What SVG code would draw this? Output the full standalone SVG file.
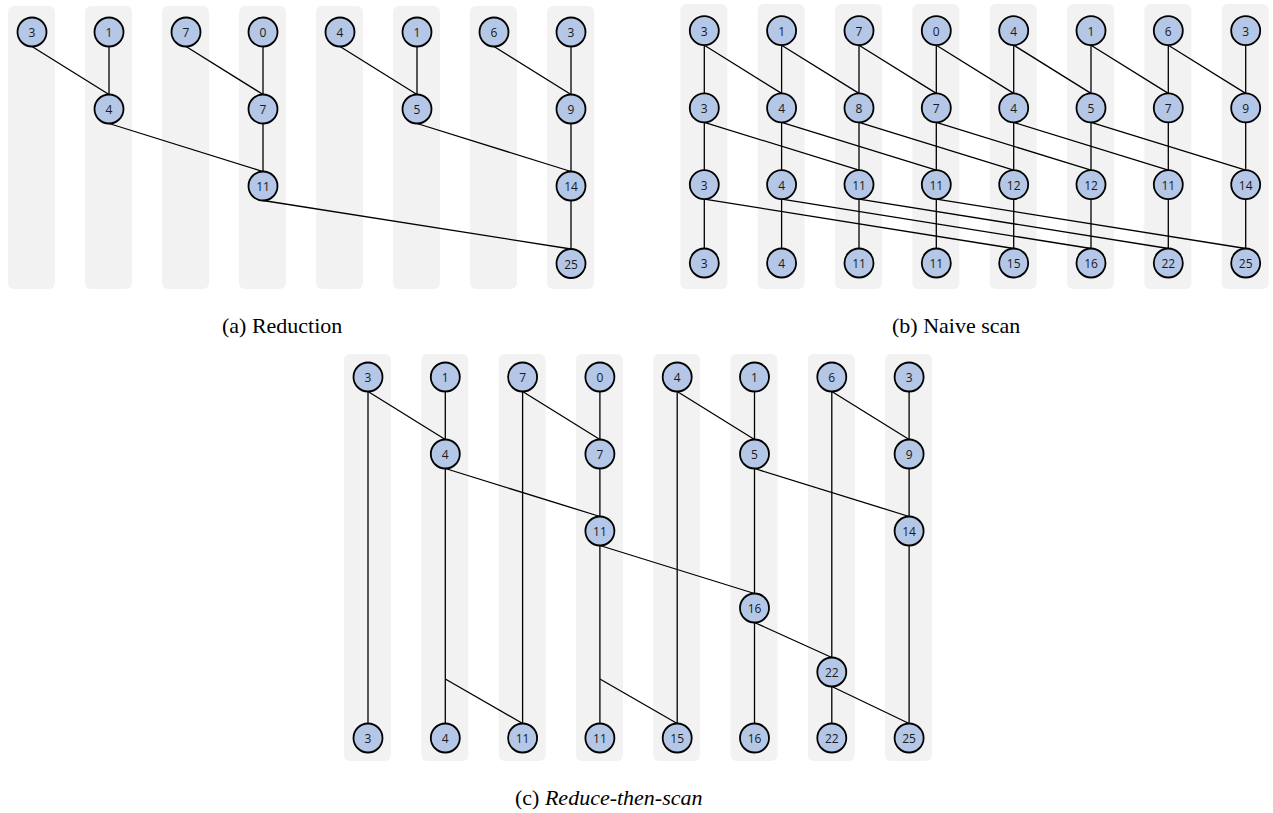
<svg xmlns="http://www.w3.org/2000/svg" width="1273" height="813" viewBox="0 0 1273 813">
<style>
.lane{fill:#f2f2f2;stroke:none}
.n circle{fill:#b4c7e7;stroke:#000;stroke-width:1.8}
.n text{font-family:"Open Sans","Liberation Sans",sans-serif;font-size:12px;fill:#1a1a1a;text-anchor:middle;dominant-baseline:central}
.e line{stroke:#000;stroke-width:1.3;fill:none}
.cap{font-family:"Liberation Serif","Times New Roman",serif;font-size:22px;fill:#000}
</style>
<rect width="1273" height="813" fill="#fff"/>
<!-- lanes -->
<g id="lanes-a">
<rect class="lane" x="8" y="6" width="47" height="283" rx="6"/>
<rect class="lane" x="85" y="6" width="47" height="283" rx="6"/>
<rect class="lane" x="162" y="6" width="47" height="283" rx="6"/>
<rect class="lane" x="239" y="6" width="47" height="283" rx="6"/>
<rect class="lane" x="316" y="6" width="47" height="283" rx="6"/>
<rect class="lane" x="393" y="6" width="47" height="283" rx="6"/>
<rect class="lane" x="470" y="6" width="47" height="283" rx="6"/>
<rect class="lane" x="547" y="6" width="47" height="283" rx="6"/>
</g>
<g id="lanes-b">
<rect class="lane" x="680.3" y="4" width="47" height="285" rx="6"/>
<rect class="lane" x="757.6" y="4" width="47" height="285" rx="6"/>
<rect class="lane" x="835" y="4" width="47" height="285" rx="6"/>
<rect class="lane" x="912.3" y="4" width="47" height="285" rx="6"/>
<rect class="lane" x="989.7" y="4" width="47" height="285" rx="6"/>
<rect class="lane" x="1067" y="4" width="47" height="285" rx="6"/>
<rect class="lane" x="1144.3" y="4" width="47" height="285" rx="6"/>
<rect class="lane" x="1221.7" y="4" width="47" height="285" rx="6"/>
</g>
<g id="lanes-c">
<rect class="lane" x="344" y="354" width="47" height="407" rx="6"/>
<rect class="lane" x="421.3" y="354" width="47" height="407" rx="6"/>
<rect class="lane" x="498.6" y="354" width="47" height="407" rx="6"/>
<rect class="lane" x="575.9" y="354" width="47" height="407" rx="6"/>
<rect class="lane" x="653.2" y="354" width="47" height="407" rx="6"/>
<rect class="lane" x="730.5" y="354" width="47" height="407" rx="6"/>
<rect class="lane" x="807.8" y="354" width="47" height="407" rx="6"/>
<rect class="lane" x="885.1" y="354" width="47" height="407" rx="6"/>
</g>
<!-- connectors -->
<g id="connectors" class="e">
<!-- (a) -->
<line x1="32" y1="46.5" x2="109" y2="94.5"/>
<line x1="109" y1="46.5" x2="109" y2="94.5"/>
<line x1="186" y1="46.5" x2="263" y2="94.5"/>
<line x1="263" y1="46.5" x2="263" y2="94.5"/>
<line x1="340" y1="46.5" x2="417" y2="94.5"/>
<line x1="417" y1="46.5" x2="417" y2="94.5"/>
<line x1="494" y1="46.5" x2="571" y2="94.5"/>
<line x1="571" y1="46.5" x2="571" y2="94.5"/>
<line x1="109" y1="123.5" x2="263" y2="171.5"/>
<line x1="263" y1="123.5" x2="263" y2="171.5"/>
<line x1="417" y1="123.5" x2="571" y2="171.5"/>
<line x1="571" y1="123.5" x2="571" y2="171.5"/>
<line x1="263" y1="200.5" x2="571" y2="249"/>
<line x1="571" y1="200.5" x2="571" y2="249"/>
<!-- (b) row0->row1 -->
<line x1="704.3" y1="45.2" x2="704.3" y2="93.4"/>
<line x1="781.6" y1="45.2" x2="781.6" y2="93.4"/>
<line x1="859" y1="45.2" x2="859" y2="93.4"/>
<line x1="936.3" y1="45.2" x2="936.3" y2="93.4"/>
<line x1="1013.7" y1="45.2" x2="1013.7" y2="93.4"/>
<line x1="1091" y1="45.2" x2="1091" y2="93.4"/>
<line x1="1168.3" y1="45.2" x2="1168.3" y2="93.4"/>
<line x1="1245.7" y1="45.2" x2="1245.7" y2="93.4"/>
<line x1="704.3" y1="45.2" x2="781.6" y2="93.4"/>
<line x1="781.6" y1="45.2" x2="859" y2="93.4"/>
<line x1="859" y1="45.2" x2="936.3" y2="93.4"/>
<line x1="936.3" y1="45.2" x2="1013.7" y2="93.4"/>
<line x1="1013.7" y1="45.2" x2="1091" y2="93.4"/>
<line x1="1091" y1="45.2" x2="1168.3" y2="93.4"/>
<line x1="1168.3" y1="45.2" x2="1245.7" y2="93.4"/>
<!-- (b) row1->row2 -->
<line x1="704.3" y1="122.4" x2="704.3" y2="170.1"/>
<line x1="781.6" y1="122.4" x2="781.6" y2="170.1"/>
<line x1="859" y1="122.4" x2="859" y2="170.1"/>
<line x1="936.3" y1="122.4" x2="936.3" y2="170.1"/>
<line x1="1013.7" y1="122.4" x2="1013.7" y2="170.1"/>
<line x1="1091" y1="122.4" x2="1091" y2="170.1"/>
<line x1="1168.3" y1="122.4" x2="1168.3" y2="170.1"/>
<line x1="1245.7" y1="122.4" x2="1245.7" y2="170.1"/>
<line x1="704.3" y1="122.4" x2="859" y2="170.1"/>
<line x1="781.6" y1="122.4" x2="936.3" y2="170.1"/>
<line x1="859" y1="122.4" x2="1013.7" y2="170.1"/>
<line x1="936.3" y1="122.4" x2="1091" y2="170.1"/>
<line x1="1013.7" y1="122.4" x2="1168.3" y2="170.1"/>
<line x1="1091" y1="122.4" x2="1245.7" y2="170.1"/>
<!-- (b) row2->row3 -->
<line x1="704.3" y1="199.1" x2="704.3" y2="248.5"/>
<line x1="781.6" y1="199.1" x2="781.6" y2="248.5"/>
<line x1="859" y1="199.1" x2="859" y2="248.5"/>
<line x1="936.3" y1="199.1" x2="936.3" y2="248.5"/>
<line x1="1013.7" y1="199.1" x2="1013.7" y2="248.5"/>
<line x1="1091" y1="199.1" x2="1091" y2="248.5"/>
<line x1="1168.3" y1="199.1" x2="1168.3" y2="248.5"/>
<line x1="1245.7" y1="199.1" x2="1245.7" y2="248.5"/>
<line x1="704.3" y1="199.1" x2="1013.7" y2="248.5"/>
<line x1="781.6" y1="199.1" x2="1091" y2="248.5"/>
<line x1="859" y1="199.1" x2="1168.3" y2="248.5"/>
<line x1="936.3" y1="199.1" x2="1245.7" y2="248.5"/>
<!-- (c) -->
<line x1="368" y1="391.5" x2="445.3" y2="439.5"/>
<line x1="445.3" y1="391.5" x2="445.3" y2="439.5"/>
<line x1="522.6" y1="391.5" x2="599.9" y2="439.5"/>
<line x1="599.9" y1="391.5" x2="599.9" y2="439.5"/>
<line x1="677.2" y1="391.5" x2="754.5" y2="439.5"/>
<line x1="754.5" y1="391.5" x2="754.5" y2="439.5"/>
<line x1="831.8" y1="391.5" x2="909.1" y2="439.5"/>
<line x1="909.1" y1="391.5" x2="909.1" y2="439.5"/>
<line x1="445.3" y1="468.5" x2="599.9" y2="516.5"/>
<line x1="599.9" y1="468.5" x2="599.9" y2="516.5"/>
<line x1="754.5" y1="468.5" x2="909.1" y2="516.5"/>
<line x1="909.1" y1="468.5" x2="909.1" y2="516.5"/>
<line x1="599.9" y1="545.5" x2="754.5" y2="593.5"/>
<line x1="754.5" y1="468.5" x2="754.5" y2="593.5"/>
<line x1="754.5" y1="622.5" x2="831.8" y2="657.5"/>
<line x1="831.8" y1="391.5" x2="831.8" y2="657.5"/>
<line x1="831.8" y1="686.5" x2="909.1" y2="723.5"/>
<line x1="909.1" y1="545.5" x2="909.1" y2="723.5"/>
<line x1="831.8" y1="686.5" x2="831.8" y2="723.5"/>
<line x1="754.5" y1="622.5" x2="754.5" y2="723.5"/>
<line x1="368" y1="391.5" x2="368" y2="723.5"/>
<line x1="445.3" y1="468.5" x2="445.3" y2="723.5"/>
<line x1="445.3" y1="679" x2="522.6" y2="723.5"/>
<line x1="522.6" y1="391.5" x2="522.6" y2="723.5"/>
<line x1="599.9" y1="545.5" x2="599.9" y2="723.5"/>
<line x1="599.9" y1="679" x2="677.2" y2="723.5"/>
<line x1="677.2" y1="391.5" x2="677.2" y2="723.5"/>
</g>
<!-- nodes (a) -->
<g id="a-r0c0" class="n"><circle cx="32" cy="32" r="14.5"/><text x="32" y="32.5">3</text></g>
<g id="a-r0c1" class="n"><circle cx="109" cy="32" r="14.5"/><text x="109" y="32.5">1</text></g>
<g id="a-r0c2" class="n"><circle cx="186" cy="32" r="14.5"/><text x="186" y="32.5">7</text></g>
<g id="a-r0c3" class="n"><circle cx="263" cy="32" r="14.5"/><text x="263" y="32.5">0</text></g>
<g id="a-r0c4" class="n"><circle cx="340" cy="32" r="14.5"/><text x="340" y="32.5">4</text></g>
<g id="a-r0c5" class="n"><circle cx="417" cy="32" r="14.5"/><text x="417" y="32.5">1</text></g>
<g id="a-r0c6" class="n"><circle cx="494" cy="32" r="14.5"/><text x="494" y="32.5">6</text></g>
<g id="a-r0c7" class="n"><circle cx="571" cy="32" r="14.5"/><text x="571" y="32.5">3</text></g>
<g id="a-r1c1" class="n"><circle cx="109" cy="109" r="14.5"/><text x="109" y="109.5">4</text></g>
<g id="a-r1c3" class="n"><circle cx="263" cy="109" r="14.5"/><text x="263" y="109.5">7</text></g>
<g id="a-r1c5" class="n"><circle cx="417" cy="109" r="14.5"/><text x="417" y="109.5">5</text></g>
<g id="a-r1c7" class="n"><circle cx="571" cy="109" r="14.5"/><text x="571" y="109.5">9</text></g>
<g id="a-r2c3" class="n"><circle cx="263" cy="186" r="14.5"/><text x="263" y="186.5">11</text></g>
<g id="a-r2c7" class="n"><circle cx="571" cy="186" r="14.5"/><text x="571" y="186.5">14</text></g>
<g id="a-r3c7" class="n"><circle cx="571" cy="263.5" r="14.5"/><text x="571" y="264">25</text></g>
<!-- nodes (b) -->
<g id="b-r0c0" class="n"><circle cx="704.3" cy="30.7" r="14.5"/><text x="704.3" y="31.2">3</text></g>
<g id="b-r0c1" class="n"><circle cx="781.6" cy="30.7" r="14.5"/><text x="781.6" y="31.2">1</text></g>
<g id="b-r0c2" class="n"><circle cx="859" cy="30.7" r="14.5"/><text x="859" y="31.2">7</text></g>
<g id="b-r0c3" class="n"><circle cx="936.3" cy="30.7" r="14.5"/><text x="936.3" y="31.2">0</text></g>
<g id="b-r0c4" class="n"><circle cx="1013.7" cy="30.7" r="14.5"/><text x="1013.7" y="31.2">4</text></g>
<g id="b-r0c5" class="n"><circle cx="1091" cy="30.7" r="14.5"/><text x="1091" y="31.2">1</text></g>
<g id="b-r0c6" class="n"><circle cx="1168.3" cy="30.7" r="14.5"/><text x="1168.3" y="31.2">6</text></g>
<g id="b-r0c7" class="n"><circle cx="1245.7" cy="30.7" r="14.5"/><text x="1245.7" y="31.2">3</text></g>
<g id="b-r1c0" class="n"><circle cx="704.3" cy="107.9" r="14.5"/><text x="704.3" y="108.4">3</text></g>
<g id="b-r1c1" class="n"><circle cx="781.6" cy="107.9" r="14.5"/><text x="781.6" y="108.4">4</text></g>
<g id="b-r1c2" class="n"><circle cx="859" cy="107.9" r="14.5"/><text x="859" y="108.4">8</text></g>
<g id="b-r1c3" class="n"><circle cx="936.3" cy="107.9" r="14.5"/><text x="936.3" y="108.4">7</text></g>
<g id="b-r1c4" class="n"><circle cx="1013.7" cy="107.9" r="14.5"/><text x="1013.7" y="108.4">4</text></g>
<g id="b-r1c5" class="n"><circle cx="1091" cy="107.9" r="14.5"/><text x="1091" y="108.4">5</text></g>
<g id="b-r1c6" class="n"><circle cx="1168.3" cy="107.9" r="14.5"/><text x="1168.3" y="108.4">7</text></g>
<g id="b-r1c7" class="n"><circle cx="1245.7" cy="107.9" r="14.5"/><text x="1245.7" y="108.4">9</text></g>
<g id="b-r2c0" class="n"><circle cx="704.3" cy="184.6" r="14.5"/><text x="704.3" y="185.1">3</text></g>
<g id="b-r2c1" class="n"><circle cx="781.6" cy="184.6" r="14.5"/><text x="781.6" y="185.1">4</text></g>
<g id="b-r2c2" class="n"><circle cx="859" cy="184.6" r="14.5"/><text x="859" y="185.1">11</text></g>
<g id="b-r2c3" class="n"><circle cx="936.3" cy="184.6" r="14.5"/><text x="936.3" y="185.1">11</text></g>
<g id="b-r2c4" class="n"><circle cx="1013.7" cy="184.6" r="14.5"/><text x="1013.7" y="185.1">12</text></g>
<g id="b-r2c5" class="n"><circle cx="1091" cy="184.6" r="14.5"/><text x="1091" y="185.1">12</text></g>
<g id="b-r2c6" class="n"><circle cx="1168.3" cy="184.6" r="14.5"/><text x="1168.3" y="185.1">11</text></g>
<g id="b-r2c7" class="n"><circle cx="1245.7" cy="184.6" r="14.5"/><text x="1245.7" y="185.1">14</text></g>
<g id="b-r3c0" class="n"><circle cx="704.3" cy="263" r="14.5"/><text x="704.3" y="263.5">3</text></g>
<g id="b-r3c1" class="n"><circle cx="781.6" cy="263" r="14.5"/><text x="781.6" y="263.5">4</text></g>
<g id="b-r3c2" class="n"><circle cx="859" cy="263" r="14.5"/><text x="859" y="263.5">11</text></g>
<g id="b-r3c3" class="n"><circle cx="936.3" cy="263" r="14.5"/><text x="936.3" y="263.5">11</text></g>
<g id="b-r3c4" class="n"><circle cx="1013.7" cy="263" r="14.5"/><text x="1013.7" y="263.5">15</text></g>
<g id="b-r3c5" class="n"><circle cx="1091" cy="263" r="14.5"/><text x="1091" y="263.5">16</text></g>
<g id="b-r3c6" class="n"><circle cx="1168.3" cy="263" r="14.5"/><text x="1168.3" y="263.5">22</text></g>
<g id="b-r3c7" class="n"><circle cx="1245.7" cy="263" r="14.5"/><text x="1245.7" y="263.5">25</text></g>
<!-- nodes (c) -->
<g id="c-r0c0" class="n"><circle cx="368" cy="377" r="14.5"/><text x="368" y="377.5">3</text></g>
<g id="c-r0c1" class="n"><circle cx="445.3" cy="377" r="14.5"/><text x="445.3" y="377.5">1</text></g>
<g id="c-r0c2" class="n"><circle cx="522.6" cy="377" r="14.5"/><text x="522.6" y="377.5">7</text></g>
<g id="c-r0c3" class="n"><circle cx="599.9" cy="377" r="14.5"/><text x="599.9" y="377.5">0</text></g>
<g id="c-r0c4" class="n"><circle cx="677.2" cy="377" r="14.5"/><text x="677.2" y="377.5">4</text></g>
<g id="c-r0c5" class="n"><circle cx="754.5" cy="377" r="14.5"/><text x="754.5" y="377.5">1</text></g>
<g id="c-r0c6" class="n"><circle cx="831.8" cy="377" r="14.5"/><text x="831.8" y="377.5">6</text></g>
<g id="c-r0c7" class="n"><circle cx="909.1" cy="377" r="14.5"/><text x="909.1" y="377.5">3</text></g>
<g id="c-r1c1" class="n"><circle cx="445.3" cy="454" r="14.5"/><text x="445.3" y="454.5">4</text></g>
<g id="c-r1c3" class="n"><circle cx="599.9" cy="454" r="14.5"/><text x="599.9" y="454.5">7</text></g>
<g id="c-r1c5" class="n"><circle cx="754.5" cy="454" r="14.5"/><text x="754.5" y="454.5">5</text></g>
<g id="c-r1c7" class="n"><circle cx="909.1" cy="454" r="14.5"/><text x="909.1" y="454.5">9</text></g>
<g id="c-r2c3" class="n"><circle cx="599.9" cy="531" r="14.5"/><text x="599.9" y="531.5">11</text></g>
<g id="c-r2c7" class="n"><circle cx="909.1" cy="531" r="14.5"/><text x="909.1" y="531.5">14</text></g>
<g id="c-r3c5" class="n"><circle cx="754.5" cy="608" r="14.5"/><text x="754.5" y="608.5">16</text></g>
<g id="c-r4c6" class="n"><circle cx="831.8" cy="672" r="14.5"/><text x="831.8" y="672.5">22</text></g>
<g id="c-r5c0" class="n"><circle cx="368" cy="738" r="14.5"/><text x="368" y="738.5">3</text></g>
<g id="c-r5c1" class="n"><circle cx="445.3" cy="738" r="14.5"/><text x="445.3" y="738.5">4</text></g>
<g id="c-r5c2" class="n"><circle cx="522.6" cy="738" r="14.5"/><text x="522.6" y="738.5">11</text></g>
<g id="c-r5c3" class="n"><circle cx="599.9" cy="738" r="14.5"/><text x="599.9" y="738.5">11</text></g>
<g id="c-r5c4" class="n"><circle cx="677.2" cy="738" r="14.5"/><text x="677.2" y="738.5">15</text></g>
<g id="c-r5c5" class="n"><circle cx="754.5" cy="738" r="14.5"/><text x="754.5" y="738.5">16</text></g>
<g id="c-r5c6" class="n"><circle cx="831.8" cy="738" r="14.5"/><text x="831.8" y="738.5">22</text></g>
<g id="c-r5c7" class="n"><circle cx="909.1" cy="738" r="14.5"/><text x="909.1" y="738.5">25</text></g>
<!-- captions -->
<text class="cap" x="222" y="333">(a) Reduction</text>
<text class="cap" x="892" y="333">(b) Naive scan</text>
<text class="cap" x="515" y="805">(c) <tspan font-style="italic">Reduce-then-scan</tspan></text>
</svg>
